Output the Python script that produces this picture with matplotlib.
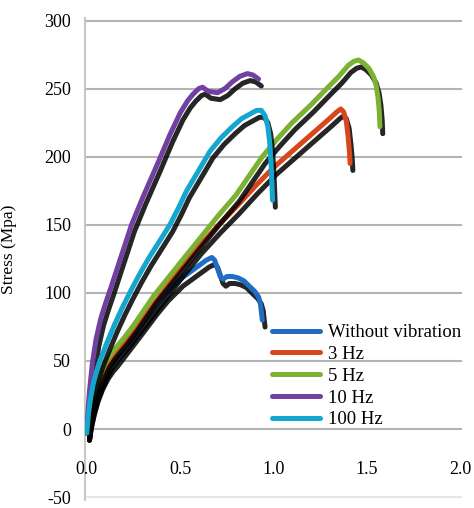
import matplotlib
matplotlib.use("Agg")
import matplotlib.pyplot as plt
import matplotlib.patheffects as pe

# strain values (x) and stress values (y)
blue_x = [0.0, 0.01, 0.025, 0.045, 0.07, 0.1, 0.125, 0.15, 0.2, 0.25, 0.3, 0.36, 0.42, 0.5,
          0.58, 0.64, 0.67, 0.685, 0.7, 0.715, 0.73, 0.75, 0.78, 0.81, 0.84, 0.87, 0.9,
          0.92, 0.93, 0.935, 0.94]
blue_y = [-3, 6, 15, 25, 34, 42, 47, 51, 60, 69, 78, 89, 99, 110,
          118, 124, 126, 124, 118, 112, 110, 112, 112, 111, 109, 105, 101,
          97, 92, 86, 80]

red_x = [0.0, 0.01, 0.025, 0.045, 0.07, 0.1, 0.123, 0.16, 0.2, 0.25, 0.3, 0.35, 0.4, 0.5,
         0.6, 0.7, 0.8, 0.9, 1.0, 1.1, 1.2, 1.3, 1.34, 1.36, 1.375, 1.39, 1.40, 1.407, 1.41]
red_y = [-3, 6, 16, 26, 35, 44, 50, 57, 63, 72, 81, 90, 99, 117,
         134, 149, 163, 178, 192, 204, 216, 228, 233, 235, 233, 226, 214, 203, 195]

green_x = [0.0, 0.01, 0.025, 0.045, 0.07, 0.105, 0.14, 0.2, 0.25, 0.3, 0.36, 0.43, 0.5,
           0.6, 0.7, 0.8, 0.94, 1.02, 1.1, 1.2, 1.285, 1.35, 1.4, 1.43, 1.455, 1.48,
           1.51, 1.535, 1.55, 1.56, 1.567, 1.57]
green_y = [-3, 8, 19, 30, 39, 50, 57, 67, 76, 86, 98, 110, 122,
           139, 156, 172, 200, 213, 225, 238, 250, 259, 267, 270, 271, 269,
           265, 259, 252, 243, 232, 222]

purple_x = [0.0, 0.005, 0.015, 0.03, 0.05, 0.075, 0.1, 0.13, 0.18, 0.24, 0.3, 0.38, 0.445,
            0.5, 0.54, 0.57, 0.6, 0.62, 0.65, 0.7, 0.74, 0.78, 0.82, 0.86, 0.89, 0.92]
purple_y = [-3, 10, 28, 48, 66, 81, 92, 104, 125, 150, 170, 195, 216,
            232, 241, 246, 250, 251, 248, 247, 250, 255, 259, 261, 260, 257]

cyan_x = [0.0, 0.01, 0.02, 0.035, 0.05, 0.07, 0.11, 0.15, 0.19, 0.23, 0.28, 0.33, 0.39,
          0.445, 0.49, 0.535, 0.6, 0.66, 0.72, 0.78, 0.83, 0.87, 0.91, 0.935, 0.955,
          0.97, 0.98, 0.988, 0.995]
cyan_y = [-3, 12, 22, 33, 41, 50, 64, 77, 89, 100, 113, 125, 138,
          150, 162, 175, 190, 204, 214, 222, 228, 231, 234, 234, 230,
          222, 210, 192, 168]

labels = ["Without vibration", "3 Hz", "5 Hz", "10 Hz", "100 Hz"]
colors = ["#1f6ec4", "#d8461b", "#7cb231", "#7140a1", "#14a6cf"]
series = [(blue_x, blue_y), (red_x, red_y), (green_x, green_y),
          (purple_x, purple_y), (cyan_x, cyan_y)]

y_ticks = [-50, 0, 50, 100, 150, 200, 250, 300]
x_ticks = [0.0, 0.5, 1.0, 1.5, 2.0]

plt.rcParams['font.family'] = ['Liberation Serif', 'DejaVu Serif']

fig = plt.figure(figsize=(4.74, 5.08), dpi=100)
ax = fig.add_axes([0.179, 0.016, 0.796, 0.949])

# horizontal grid lines
for t in y_ticks:
    c = "#e6e6e6" if t == -50 else "#b4b4b4"
    ax.axhline(t, color=c, lw=1.5, zorder=1)

shadow = [pe.SimpleLineShadow(offset=(2, -5), shadow_color="black", alpha=0.85),
          pe.Normal()]
for (xs, ys), col, lab in zip(series, colors, labels):
    ax.plot(xs, ys, color=col, lw=3.6, solid_capstyle="round",
            solid_joinstyle="round", path_effects=shadow, label=lab, zorder=3)

ax.set_xlim(-0.01, 2.01)
ax.set_ylim(-52, 302)
ax.set_yticks(y_ticks)
ax.set_yticklabels([str(t) for t in y_ticks], fontsize=13)
ax.tick_params(axis="y", length=0, pad=10)
ax.set_xticks([])
for s in ["top", "right", "bottom"]:
    ax.spines[s].set_visible(False)
ax.spines["left"].set_color("#c8c8c8")
ax.spines["left"].set_linewidth(1.5)

for t in x_ticks:
    ax.text(t, -30, "%.1f" % t, ha="center", va="center", fontsize=13)

ax.set_ylabel("Stress (Mpa)", fontsize=12.5)
ax.yaxis.set_label_coords(-0.18, 0.52)

leg = ax.legend(loc="lower right", bbox_to_anchor=(1.027, 0.125), frameon=False,
                fontsize=13.5, handlelength=2.6, labelspacing=0.25,
                handletextpad=0.4, borderpad=0.1)
for h in leg.get_lines():
    h.set_path_effects([])
    h.set_linewidth(3.6)

fig.savefig("out.png", dpi=100)
